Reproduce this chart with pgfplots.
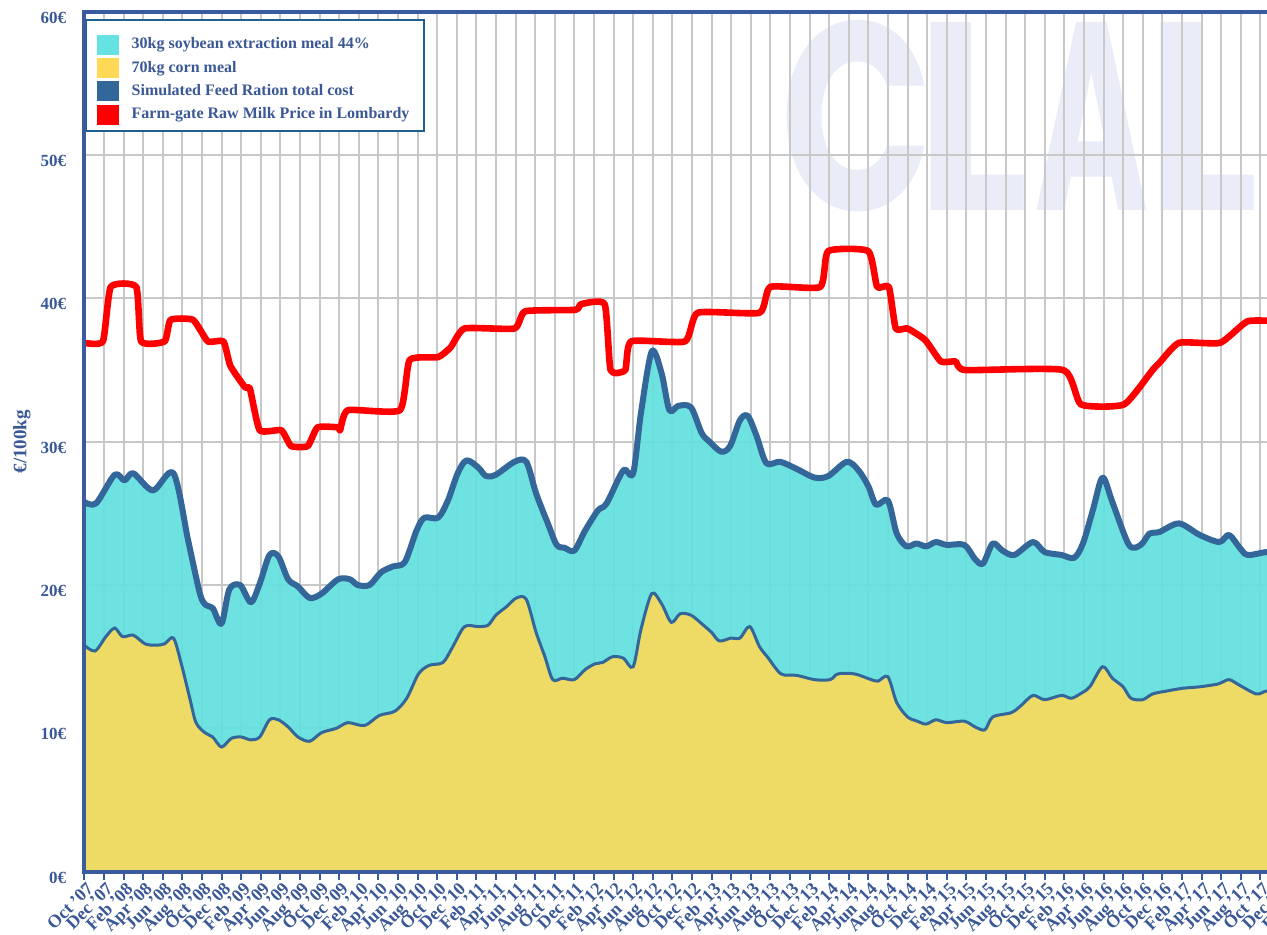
\documentclass[border=0pt]{standalone}
\usepackage{fontspec}
\setmainfont{Liberation Serif}
\newfontfamily\wmfont{Poppins}
\usepackage{pgfplots}
\pgfplotsset{compat=1.18}
\definecolor{soycyan}{RGB}{99,223,223}
\definecolor{cornyellow}{RGB}{237,219,102}
\definecolor{swcyan}{RGB}{92,224,224}
\definecolor{swyellow}{RGB}{255,217,85}
\definecolor{lineblue}{RGB}{51,102,153}
\definecolor{borderblue}{RGB}{58,92,158}
\definecolor{textblue}{RGB}{58,88,150}
\definecolor{gridgray}{RGB}{200,200,200}
\definecolor{wmcolor}{RGB}{234,237,248}
\definecolor{legframe}{RGB}{31,95,143}
\begin{document}
\begin{tikzpicture}
\useasboundingbox (0,0) rectangle (633.5pt,467pt);
\clip (0,0) rectangle (633.5pt,467pt);
\tikzset{wm/.style={anchor=base west, inner sep=0pt, text=wmcolor, font=\wmfont\bfseries\fontsize{134}{134}\selectfont}}
\node[wm, xscale=0.75] at (390pt,362pt) {C};
\node[wm, xscale=0.88] at (458pt,362pt) {L};
\node[wm, xscale=0.58] at (517pt,362pt) {A};
\node[wm, xscale=0.88] at (573pt,362pt) {L};
\begin{axis}[
  name=ax,
  at={(42.15pt,31.15pt)}, anchor=south west,
  scale only axis, width=607.6pt, height=430pt,
  xmin=0, xmax=124, ymin=0, ymax=60,
  axis line style={draw=none},
  xtick={0,2,...,124},
  xticklabels={Oct '07,Dec '07,Feb '08,Apr '08,Jun '08,Aug '08,Oct '08,Dec '08,Feb '09,Apr '09,Jun '09,Aug '09,Oct '09,Dec '09,Feb '10,Apr '10,Jun '10,Aug '10,Oct '10,Dec '10,Feb '11,Apr '11,Jun '11,Aug '11,Oct '11,Dec '11,Feb '12,Apr '12,Jun '12,Aug '12,Oct '12,Dec '12,Feb '13,Apr '13,Jun '13,Aug '13,Oct '13,Dec '13,Feb '14,Apr '14,Jun '14,Aug '14,Oct '14,Dec '14,Feb '15,Apr '15,Jun '15,Aug '15,Oct '15,Dec '15,Feb '16,Apr '16,Jun '16,Aug '16,Oct '16,Dec '16,Feb '17,Apr '17,Jun '17,Aug '17,Oct '17,Dec '17,Feb '18},
  ytick={0,10,...,60},
  yticklabels={0€,10€,20€,30€,40€,50€,60€},
  tick pos=left,
  x tick style={draw=borderblue, line width=1pt},
  y tick style={draw=none},
  tick align=outside,
  major tick length=4pt,
  xticklabel style={rotate=45, anchor=north east, font=\bfseries\fontsize{9}{9}\selectfont, text=textblue, inner sep=1pt, xshift=1pt},
  yticklabel style={font=\bfseries\fontsize{8.5}{9}\selectfont, text=textblue, yshift=-3pt, xshift=-1.5pt},
  grid=major,
  major grid style={draw=gridgray, line width=1pt},
  ylabel={€/100kg},
  ylabel style={at={(axis description cs:-0.0513,0.5)}, anchor=center, font=\bfseries\fontsize{9.5}{10}\selectfont, text=textblue},
  legend style={at={(0,1)}, anchor=north west, yshift=-3.7pt, xshift=0.3pt,
    draw=legframe, line width=0.9pt, fill=white,
    inner xsep=5.5pt, inner ysep=3.3pt, row sep=1.67pt,
    font=\bfseries\fontsize{8}{9}\selectfont, text=textblue,
    nodes={inner ysep=0.5pt, inner xsep=1.8pt}},
  legend cell align=left,
]
\addplot[draw=none, fill=soycyan, fill opacity=0.93, smooth, tension=0.5,
  legend image code/.code={\path[fill=swcyan, draw=none] (0pt,-5pt) rectangle (11pt,5pt); \path (14pt,9pt);}]
coordinates {(0,25.8)(1.2,25.7)(3.1,27.7)(4.1,27.3)(5.0,27.8)(7.0,26.6)(9.1,27.8)(10.6,23.1)(11.8,19.4)(12.4,18.6)(13.1,18.4)(14.0,17.3)(14.8,19.7)(15.9,20.0)(17.0,18.8)(17.9,20.1)(18.9,22.1)(19.8,22.0)(20.8,20.4)(21.8,19.9)(23.0,19.1)(24.2,19.4)(25.9,20.4)(27.1,20.4)(27.9,20.0)(29.1,20.0)(30.3,20.9)(31.5,21.3)(32.7,21.6)(33.9,23.8)(34.7,24.7)(36.1,24.7)(37.1,25.9)(38.1,27.8)(39.0,28.7)(40.2,28.2)(41.0,27.6)(42.0,27.7)(43.9,28.6)(45.1,28.6)(46.1,26.4)(47.3,24.3)(48.2,22.8)(49.0,22.6)(50.0,22.4)(51.1,23.8)(52.4,25.2)(53.3,25.7)(55.0,28.0)(56.0,27.8)(56.8,32.0)(57.9,36.3)(58.9,34.8)(59.7,32.2)(60.6,32.5)(61.9,32.4)(63.0,30.6)(63.8,30.0)(65.0,29.3)(65.9,29.7)(66.9,31.5)(67.7,31.8)(68.6,30.4)(69.6,28.5)(71.0,28.6)(72.7,28.1)(74.5,27.5)(75.9,27.6)(77.8,28.6)(79.0,28.0)(80.0,26.9)(80.8,25.6)(82.0,25.9)(82.9,23.6)(83.9,22.7)(84.9,22.9)(85.9,22.7)(86.9,23.0)(88.0,22.8)(89.8,22.8)(90.9,21.8)(91.7,21.5)(92.7,22.9)(93.7,22.4)(94.9,22.1)(96.8,23.0)(98.0,22.3)(99.7,22.1)(101.0,21.9)(101.9,22.9)(102.9,25.2)(103.9,27.5)(104.9,25.8)(106.6,22.8)(107.8,22.8)(108.7,23.6)(109.7,23.7)(111.7,24.3)(113.8,23.5)(115.8,23.0)(116.8,23.5)(117.9,22.6)(118.7,22.1)(120.6,22.3)(122,22.3)} \closedcycle;
\addlegendentry{30kg soybean extraction meal 44\%}
\addplot[draw=none, fill=cornyellow, smooth, tension=0.5,
  legend image code/.code={\path[fill=swyellow, draw=none] (0pt,-5pt) rectangle (11pt,5pt); \path (14pt,0pt);}]
coordinates {(0,15.8)(1.1,15.4)(2.2,16.4)(3.1,17.0)(3.9,16.4)(5.0,16.5)(6.2,15.9)(7.3,15.8)(8.2,15.9)(9.1,16.3)(9.9,14.5)(10.8,12.0)(11.4,10.4)(12.3,9.7)(13.1,9.4)(14.0,8.7)(15.0,9.3)(16.0,9.4)(17.0,9.2)(17.9,9.4)(18.9,10.6)(19.8,10.6)(20.8,10.1)(21.8,9.4)(23.0,9.1)(24.2,9.7)(25.7,10.0)(26.9,10.4)(28.6,10.2)(30.1,10.9)(31.7,11.2)(32.9,12.1)(34.1,13.8)(35.2,14.4)(36.6,14.6)(37.6,15.7)(38.8,17.1)(40.2,17.1)(41.2,17.2)(42.0,17.9)(43.1,18.5)(44.1,19.1)(45.1,19.0)(46.1,16.7)(47.0,15.0)(47.8,13.4)(48.8,13.5)(50.0,13.4)(51.1,14.1)(52.1,14.5)(52.9,14.6)(53.9,15.0)(55.0,14.9)(56.0,14.3)(56.8,16.9)(57.9,19.4)(58.9,18.7)(59.9,17.4)(60.8,18.0)(61.9,17.9)(63.0,17.3)(64.0,16.7)(64.8,16.1)(66.0,16.3)(66.9,16.3)(67.9,17.1)(68.9,15.7)(69.8,14.9)(71.1,13.8)(72.7,13.7)(74.5,13.4)(76.1,13.4)(76.9,13.8)(78.6,13.8)(80.3,13.4)(81.0,13.3)(82.0,13.6)(82.9,11.8)(84.0,10.8)(85.0,10.5)(85.9,10.3)(86.9,10.6)(88.0,10.4)(89.8,10.5)(90.9,10.1)(91.9,9.9)(92.7,10.8)(94.6,11.1)(95.6,11.6)(96.8,12.3)(98.0,12.0)(99.7,12.3)(100.7,12.1)(101.6,12.4)(102.6,12.9)(103.9,14.3)(104.9,13.5)(106.0,12.9)(106.8,12.1)(108.0,12.0)(109.0,12.4)(110.4,12.6)(112.1,12.8)(113.8,12.9)(115.7,13.1)(116.8,13.4)(117.9,13.0)(119.6,12.4)(120.6,12.6)(122,12.6)} \closedcycle;
\addlegendentry{70kg corn meal}
\addplot[forget plot, draw=lineblue, line width=1.5pt, smooth, tension=0.5]
coordinates {(0,15.8)(1.1,15.4)(2.2,16.4)(3.1,17.0)(3.9,16.4)(5.0,16.5)(6.2,15.9)(7.3,15.8)(8.2,15.9)(9.1,16.3)(9.9,14.5)(10.8,12.0)(11.4,10.4)(12.3,9.7)(13.1,9.4)(14.0,8.7)(15.0,9.3)(16.0,9.4)(17.0,9.2)(17.9,9.4)(18.9,10.6)(19.8,10.6)(20.8,10.1)(21.8,9.4)(23.0,9.1)(24.2,9.7)(25.7,10.0)(26.9,10.4)(28.6,10.2)(30.1,10.9)(31.7,11.2)(32.9,12.1)(34.1,13.8)(35.2,14.4)(36.6,14.6)(37.6,15.7)(38.8,17.1)(40.2,17.1)(41.2,17.2)(42.0,17.9)(43.1,18.5)(44.1,19.1)(45.1,19.0)(46.1,16.7)(47.0,15.0)(47.8,13.4)(48.8,13.5)(50.0,13.4)(51.1,14.1)(52.1,14.5)(52.9,14.6)(53.9,15.0)(55.0,14.9)(56.0,14.3)(56.8,16.9)(57.9,19.4)(58.9,18.7)(59.9,17.4)(60.8,18.0)(61.9,17.9)(63.0,17.3)(64.0,16.7)(64.8,16.1)(66.0,16.3)(66.9,16.3)(67.9,17.1)(68.9,15.7)(69.8,14.9)(71.1,13.8)(72.7,13.7)(74.5,13.4)(76.1,13.4)(76.9,13.8)(78.6,13.8)(80.3,13.4)(81.0,13.3)(82.0,13.6)(82.9,11.8)(84.0,10.8)(85.0,10.5)(85.9,10.3)(86.9,10.6)(88.0,10.4)(89.8,10.5)(90.9,10.1)(91.9,9.9)(92.7,10.8)(94.6,11.1)(95.6,11.6)(96.8,12.3)(98.0,12.0)(99.7,12.3)(100.7,12.1)(101.6,12.4)(102.6,12.9)(103.9,14.3)(104.9,13.5)(106.0,12.9)(106.8,12.1)(108.0,12.0)(109.0,12.4)(110.4,12.6)(112.1,12.8)(113.8,12.9)(115.7,13.1)(116.8,13.4)(117.9,13.0)(119.6,12.4)(120.6,12.6)(122,12.6)};
\addplot[draw=lineblue, line width=3pt, smooth, tension=0.5, line join=round,
  legend image code/.code={\path[fill=lineblue, draw=none] (0pt,-5pt) rectangle (11pt,5pt); \path (14pt,0pt);}]
coordinates {(0,25.8)(1.2,25.7)(3.1,27.7)(4.1,27.3)(5.0,27.8)(7.0,26.6)(9.1,27.8)(10.6,23.1)(11.8,19.4)(12.4,18.6)(13.1,18.4)(14.0,17.3)(14.8,19.7)(15.9,20.0)(17.0,18.8)(17.9,20.1)(18.9,22.1)(19.8,22.0)(20.8,20.4)(21.8,19.9)(23.0,19.1)(24.2,19.4)(25.9,20.4)(27.1,20.4)(27.9,20.0)(29.1,20.0)(30.3,20.9)(31.5,21.3)(32.7,21.6)(33.9,23.8)(34.7,24.7)(36.1,24.7)(37.1,25.9)(38.1,27.8)(39.0,28.7)(40.2,28.2)(41.0,27.6)(42.0,27.7)(43.9,28.6)(45.1,28.6)(46.1,26.4)(47.3,24.3)(48.2,22.8)(49.0,22.6)(50.0,22.4)(51.1,23.8)(52.4,25.2)(53.3,25.7)(55.0,28.0)(56.0,27.8)(56.8,32.0)(57.9,36.3)(58.9,34.8)(59.7,32.2)(60.6,32.5)(61.9,32.4)(63.0,30.6)(63.8,30.0)(65.0,29.3)(65.9,29.7)(66.9,31.5)(67.7,31.8)(68.6,30.4)(69.6,28.5)(71.0,28.6)(72.7,28.1)(74.5,27.5)(75.9,27.6)(77.8,28.6)(79.0,28.0)(80.0,26.9)(80.8,25.6)(82.0,25.9)(82.9,23.6)(83.9,22.7)(84.9,22.9)(85.9,22.7)(86.9,23.0)(88.0,22.8)(89.8,22.8)(90.9,21.8)(91.7,21.5)(92.7,22.9)(93.7,22.4)(94.9,22.1)(96.8,23.0)(98.0,22.3)(99.7,22.1)(101.0,21.9)(101.9,22.9)(102.9,25.2)(103.9,27.5)(104.9,25.8)(106.6,22.8)(107.8,22.8)(108.7,23.6)(109.7,23.7)(111.7,24.3)(113.8,23.5)(115.8,23.0)(116.8,23.5)(117.9,22.6)(118.7,22.1)(120.6,22.3)(122,22.3)};
\addlegendentry{Simulated Feed Ration total cost}
\addplot[draw=red, line width=3.3pt, smooth, tension=0.3, line join=round,
  legend image code/.code={\path[fill=red, draw=none] (0pt,-5pt) rectangle (11pt,5pt); \path (14pt,0pt);}]
coordinates {(0,36.9)(1.9,37.0)(2.7,40.8)(5.3,40.8)(5.8,37.0)(8.2,37.0)(8.8,38.5)(11.1,38.5)(12.6,37.0)(14.2,37.0)(14.9,35.3)(16.4,33.8)(16.9,33.7)(17.9,30.8)(20.1,30.8)(21.1,29.7)(22.8,29.7)(23.8,31.0)(25.9,31.0)(26.1,30.8)(26.9,32.2)(32.2,32.2)(33.2,35.7)(36.1,35.9)(37.4,36.6)(38.8,37.9)(43.9,37.9)(45.0,39.1)(50.1,39.2)(50.7,39.6)(53.1,39.6)(53.7,35.0)(55.2,35.0)(55.8,37.0)(61.3,37.0)(62.6,39.0)(68.9,39.0)(70.0,40.8)(75.1,40.8)(75.9,43.3)(80.0,43.3)(80.9,40.8)(82.1,40.8)(82.8,37.9)(84.0,37.9)(85.8,37.1)(87.4,35.6)(88.9,35.6)(89.9,35.0)(99.9,35.0)(101.7,32.6)(106.1,32.6)(109.0,35.0)(109.7,35.5)(111.7,36.9)(115.9,36.9)(118.7,38.4)(122,38.4)};
\addlegendentry{Farm-gate Raw Milk Price in Lombardy}
\end{axis}
\draw[borderblue, line width=2pt] (ax.south east) -- (ax.south west) -- (ax.north west) -- (ax.north east);
\end{tikzpicture}
\end{document}
